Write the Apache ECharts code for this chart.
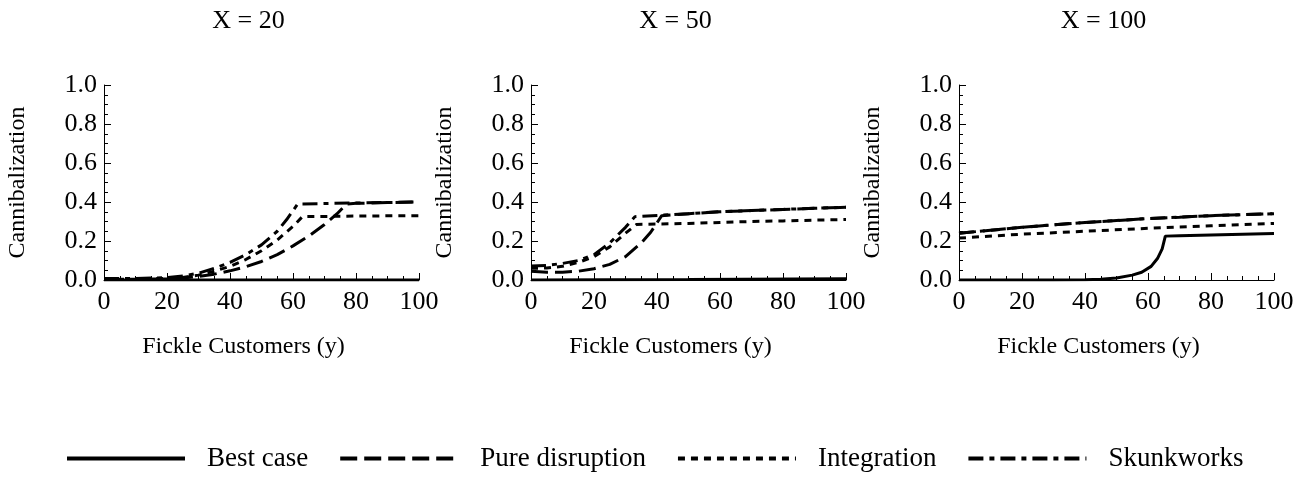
<!DOCTYPE html>
<html>
<head>
<meta charset="utf-8">
<script src="https://cdn.jsdelivr.net/npm/echarts@6/dist/echarts.min.js"></script>
<style>
  html, body { margin: 0; padding: 0; background: #fff; }
  #chart { width: 1306px; height: 477px; }
</style>
</head>
<body>
<div id="chart"></div>
<script>
// panel titles and series names
var panelTitles = ['X = 20', 'X = 50', 'X = 100'];
var seriesNames = ['Best case', 'Pure disruption', 'Integration', 'Skunkworks'];

// X = 20  ([y customers, cannibalization])
var best20 = [[0, 0], [50, 0], [100, 0]];
var pure20 = [[0, 0.002], [10, 0.003], [20, 0.006], [25, 0.01], [30, 0.018], [35, 0.03], [40, 0.047], [45, 0.068], [50, 0.095], [55, 0.13], [60, 0.175], [65, 0.225], [70, 0.285], [74, 0.34], [77, 0.39], [80, 0.393], [90, 0.397], [100, 0.4]];
var integ20 = [[0, 0.003], [10, 0.004], [20, 0.008], [25, 0.013], [30, 0.025], [35, 0.045], [40, 0.07], [45, 0.105], [50, 0.15], [55, 0.205], [60, 0.275], [63, 0.325], [70, 0.326], [80, 0.328], [100, 0.33]];
var skunk20 = [[0, 0.008], [10, 0.008], [20, 0.012], [25, 0.02], [30, 0.035], [35, 0.06], [40, 0.09], [45, 0.13], [50, 0.18], [55, 0.25], [58, 0.31], [61.5, 0.39], [70, 0.392], [80, 0.395], [100, 0.4]];

// X = 50
var best50 = [[0, 0], [50, 0.002], [100, 0.006]];
var pure50 = [[0, 0.045], [5, 0.04], [10, 0.04], [15, 0.045], [20, 0.058], [25, 0.08], [30, 0.12], [35, 0.19], [38, 0.245], [41.5, 0.33], [50, 0.34], [60, 0.35], [70, 0.356], [80, 0.362], [90, 0.368], [100, 0.373]];
var integ50 = [[0, 0.06], [5, 0.062], [10, 0.07], [15, 0.09], [20, 0.12], [25, 0.17], [30, 0.24], [33.5, 0.285], [40, 0.287], [50, 0.29], [60, 0.295], [70, 0.3], [80, 0.303], [90, 0.307], [100, 0.31]];
var skunk50 = [[0, 0.072], [5, 0.075], [10, 0.085], [15, 0.1], [20, 0.13], [25, 0.19], [30, 0.27], [33, 0.325], [42, 0.333], [50, 0.34], [60, 0.35], [70, 0.356], [80, 0.362], [90, 0.368], [100, 0.373]];

// X = 100
var best100 = [[0, 0], [30, 0], [40, 0.001], [45, 0.004], [50, 0.01], [55, 0.025], [58, 0.04], [61, 0.07], [63, 0.11], [64.5, 0.16], [65.5, 0.225], [70, 0.227], [80, 0.231], [90, 0.235], [100, 0.238]];
var pure100 = [[0, 0.24], [10, 0.255], [20, 0.27], [30, 0.283], [40, 0.295], [50, 0.305], [60, 0.315], [70, 0.322], [80, 0.33], [90, 0.335], [100, 0.34]];
var integ100 = [[0, 0.215], [20, 0.235], [40, 0.25], [60, 0.265], [80, 0.278], [100, 0.29]];
var skunk100 = [[0, 0.24], [10, 0.255], [20, 0.27], [30, 0.283], [40, 0.295], [50, 0.305], [60, 0.315], [70, 0.322], [80, 0.33], [90, 0.335], [100, 0.34]];

var panelData = [
    [best20, pure20, integ20, skunk20],
    [best50, pure50, integ50, skunk50],
    [best100, pure100, integ100, skunk100]
];

var font = 'Liberation Serif';
var dashTypes = ['solid', [17, 7], [7, 6], [15, 6, 5, 6]];
var gridLefts = [104, 531, 959];
var plotW = 315;
var labelShift = 18; // titles and x names sit a bit left of the plot centre

var grids = [], xAxes = [], yAxes = [], titles = [], series = [];

function eachOf(arr, fn) {
    for (var n = 0; n < arr.length; n++) fn(n, arr[n]);
}

eachOf(gridLefts, function (i, left) {
    grids.push({ left: left, top: 85, width: plotW, height: 195 });
    titles.push({
        text: panelTitles[i],
        left: left + plotW / 2 - labelShift,
        top: 3,
        textAlign: 'center',
        textStyle: { fontFamily: font, fontSize: 26, fontWeight: 'normal', color: '#000' }
    });
    xAxes.push({
        type: 'value', gridIndex: i, min: 0, max: 100, interval: 20,
        name: 'Fickle Customers (y)', nameLocation: 'middle', nameGap: 55,
        nameTextStyle: { fontFamily: font, fontSize: 24, color: '#000', padding: [0, labelShift * 2, 0, 0] },
        axisLine: { show: true, lineStyle: { color: '#000', width: 1 } },
        axisTick: { show: true, inside: true, length: 7, lineStyle: { color: '#000' } },
        minorTick: { show: true, splitNumber: 4, length: 4, lineStyle: { color: '#000' } },
        axisLabel: { fontFamily: font, fontSize: 26, color: '#000', margin: 9 },
        splitLine: { show: false }
    });
    yAxes.push({
        type: 'value', gridIndex: i, min: 0, max: 1, interval: 0.2,
        name: 'Cannibalization', nameLocation: 'middle', nameGap: 74,
        nameTextStyle: { fontFamily: font, fontSize: 24, color: '#000' },
        axisLine: { show: true, lineStyle: { color: '#000', width: 1 } },
        axisTick: { show: true, inside: true, length: 7, lineStyle: { color: '#000' } },
        minorTick: { show: true, splitNumber: 4, length: 4, lineStyle: { color: '#000' } },
        axisLabel: {
            fontFamily: font, fontSize: 26, color: '#000', margin: 7,
            formatter: function (v) { return v.toFixed(1); }
        },
        splitLine: { show: false }
    });
    eachOf(seriesNames, function (k, name) {
        series.push({
            name: name,
            type: 'line',
            xAxisIndex: i,
            yAxisIndex: i,
            data: panelData[i][k],
            symbol: 'none',
            smooth: false,
            animation: false,
            itemStyle: { color: '#000' },
            lineStyle: { color: '#000', width: 3, type: dashTypes[k] }
        });
    });
});

var chart = echarts.init(document.getElementById('chart'));
chart.setOption({
    animation: false,
    title: titles,
    grid: grids,
    xAxis: xAxes,
    yAxis: yAxes,
    legend: {
        data: seriesNames,
        top: 440,
        left: 60,
        itemWidth: 118,
        itemHeight: 14,
        itemGap: 30,
        selectedMode: false,
        itemStyle: { opacity: 0 },
        lineStyle: { width: 4 },
        textStyle: { fontFamily: font, fontSize: 27, color: '#000', padding: [0, 0, 0, 17] }
    },
    series: series
});
</script>
</body>
</html>
